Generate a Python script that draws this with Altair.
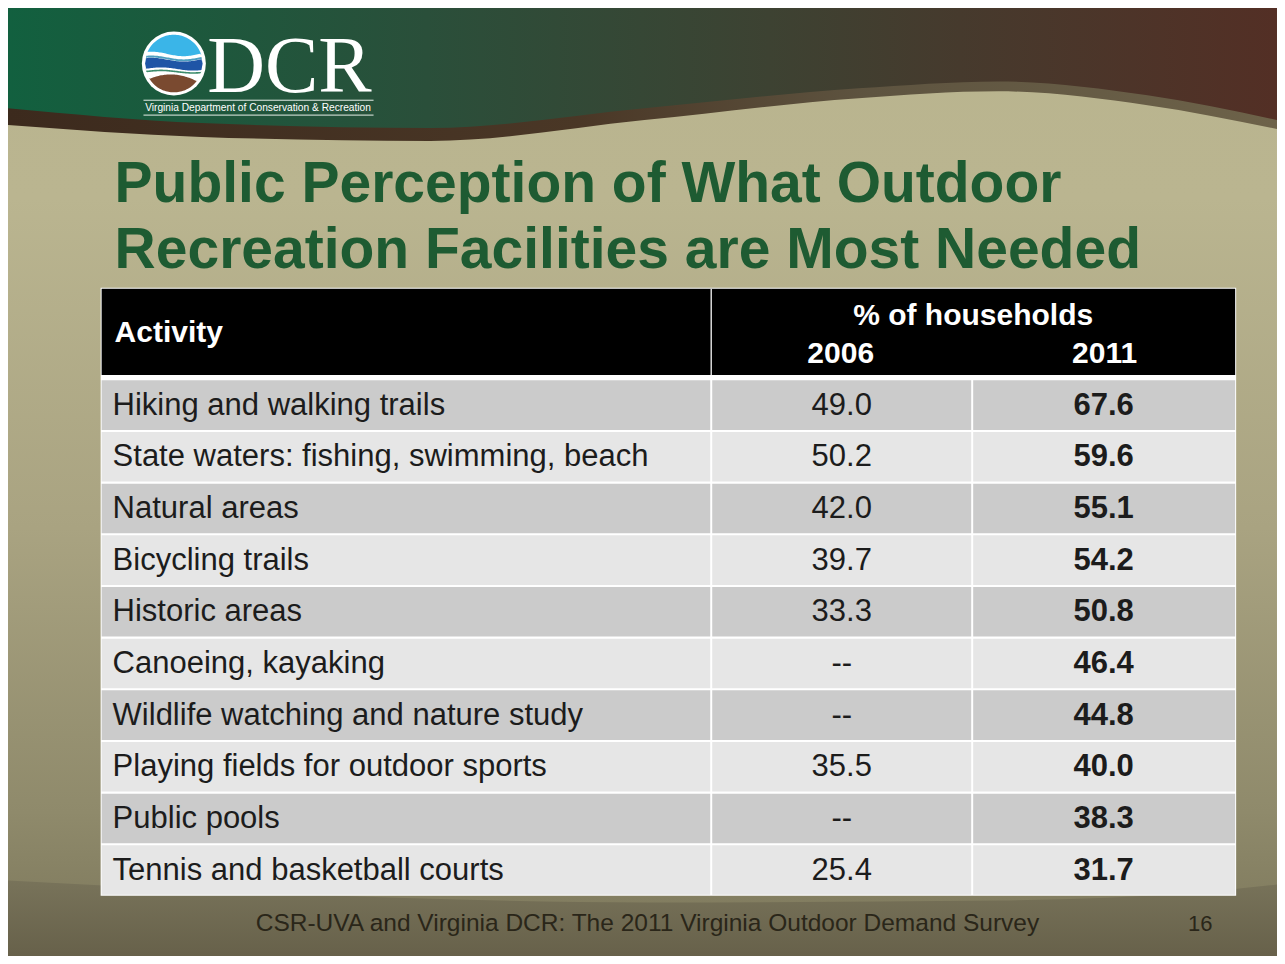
import altair as alt
import pandas as pd
import numpy as np

# ---------------- data ----------------
activities = [
    "Hiking and walking trails",
    "State waters: fishing, swimming, beach",
    "Natural areas",
    "Bicycling trails",
    "Historic areas",
    "Canoeing, kayaking",
    "Wildlife watching and nature study",
    "Playing fields for outdoor sports",
    "Public pools",
    "Tennis and basketball courts",
]
pct_2006 = [49.0, 50.2, 42.0, 39.7, 33.3, None, None, 35.5, None, 25.4]
pct_2011 = [67.6, 59.6, 55.1, 54.2, 50.8, 46.4, 44.8, 40.0, 38.3, 31.7]
header_activity = "Activity"
header_measure = "% of households"
years = ["2006", "2011"]
title_lines = ["Public Perception of What Outdoor", "Recreation Facilities are Most Needed"]
footer_text = "CSR-UVA and Virginia DCR: The 2011 Virginia Outdoor Demand Survey"
page_number = "16"
logo_text = "DCR"
logo_sub = "Virginia Department of Conservation & Recreation"

# ---------------- layout (page pixel coordinates) ----------------
xs = alt.Scale(domain=[8, 1277], nice=False, zero=False)
ys = alt.Scale(domain=[8, 956], nice=False, zero=False, reverse=True)


def X(f):
    return alt.X(f, type="quantitative", scale=xs, axis=None)


def Y(f):
    return alt.Y(f, type="quantitative", scale=ys, axis=None)


def grad(stops, vertical=False):
    return alt.Gradient(
        gradient="linear",
        stops=[alt.GradientStop(offset=o, color=c) for o, c in stops],
        x1=0, x2=0 if vertical else 1, y1=0, y2=1 if vertical else 0,
    )


FONT = "Liberation Sans"

# slide background
bg = pd.DataFrame({"x0": [6], "x1": [1280], "y0": [6], "y1": [960]})
bg_layer = alt.Chart(bg).mark_rect(
    color=grad([(0, "#b9b48e"), (0.2, "#bab590"), (0.55, "#a9a381"), (0.85, "#8f8a6b"), (1, "#7b765a")], vertical=True)
).encode(x=X("x0"), x2=alt.X2("x1"), y=Y("y0"), y2=alt.Y2("y1"))

# darker bottom region
bot_x = [6, 300, 650, 1000, 1200, 1280]
bot_y = [886, 900, 908, 906, 898, 890]
bot = pd.DataFrame({"x": bot_x, "y": bot_y, "y2": [962] * len(bot_x)})
bot_layer = alt.Chart(bot).mark_area(
    interpolate="monotone",
    color=grad([(0, "#78735a"), (1, "#67614a")], vertical=True),
).encode(x=X("x"), y=Y("y"), y2=alt.Y2("y2"))

# header wave
wave_x = [6, 200, 430, 645, 860, 1000, 1150, 1280]
wave_y = [107, 122, 127, 107, 87, 80, 94, 119]
shadow_add = [17, 14, 13, 12, 10, 10, 10, 9]
hdr = pd.DataFrame({
    "x": wave_x,
    "top": [6] * len(wave_x),
    "wave": wave_y,
    "wave_s": [w - 2 for w in wave_y],
    "shadow": [w + s for w, s in zip(wave_y, shadow_add)],
})
shadow_layer = alt.Chart(hdr).mark_area(
    interpolate="monotone",
    color=grad([(0, "#3c2a1d"), (0.45, "#4a3726"), (0.68, "#5e5440"), (1, "#6d6249")]),
).encode(x=X("x"), y=Y("wave_s"), y2=alt.Y2("shadow"))
header_layer = alt.Chart(hdr).mark_area(
    interpolate="monotone",
    color=grad([(0, "#12603f"), (0.33, "#2a4f3a"), (0.6, "#3d4232"), (0.75, "#463a2d"), (1, "#532f25")]),
).encode(x=X("x"), y=Y("top"), y2=alt.Y2("wave"))

# ---------------- logo ----------------
def band_path(top_fn, bot_fn, r=0.9, n=48):
    xx = np.linspace(-r, r, n)
    yc = np.sqrt(np.maximum(r * r - xx ** 2, 0))
    t = np.clip(top_fn(xx), -yc, yc)
    b = np.clip(bot_fn(xx), -yc, yc)
    b = np.maximum(b, t)
    pts = list(zip(xx, t)) + list(zip(xx[::-1], b[::-1]))
    return "M " + " L ".join(f"{x:.3f} {y:.3f}" for x, y in pts) + " Z"


LX, LY, LSIZE = 172.5, 62, 64 * 64
logo_shapes = [
    ("circle", "#ffffff"),
    (band_path(lambda x: -2 + 0 * x, lambda x: -0.30 + 0.07 * np.sin(np.pi * (x + 0.2))), "#3ab5e8"),
    (band_path(lambda x: -0.19 + 0.06 * np.sin(np.pi * (x + 0.2)), lambda x: -0.13 + 0.06 * np.sin(np.pi * (x + 0.2))), "#4e9fc0"),
    (band_path(lambda x: -0.12 + 0.06 * np.sin(np.pi * (x + 0.2)), lambda x: 0.17 + 0.05 * np.sin(np.pi * (x - 0.1))), "#1f55a6"),
    (band_path(lambda x: 0.23 + 0.04 * np.sin(np.pi * (x - 0.1)), lambda x: 0.28 + 0.04 * np.sin(np.pi * (x - 0.1))), "#3d8c6c"),
    (band_path(lambda x: 0.34 + 0.32 * (x + 0.1) ** 2, lambda x: 2 + 0 * x), "#7a4a30"),
]
logo = pd.DataFrame({
    "x": [LX] * len(logo_shapes),
    "y": [LY] * len(logo_shapes),
    "shape": [s for s, _ in logo_shapes],
    "fill": [c for _, c in logo_shapes],
})
logo_layer = alt.Chart(logo).mark_point(filled=True, opacity=1, strokeWidth=0, size=LSIZE).encode(
    x=X("x"), y=Y("y"),
    shape=alt.Shape("shape:N", scale=None),
    color=alt.Color("fill:N", scale=None),
)
logo_txt = alt.Chart(pd.DataFrame({"x": [206], "y": [91], "t": [logo_text]})).mark_text(
    font="Liberation Serif", fontSize=80, color="#ffffff", align="left", baseline="alphabetic"
).encode(x=X("x"), y=Y("y"), text="t:N")
logo_sub_txt = alt.Chart(pd.DataFrame({"x": [257], "y": [106.5], "t": [logo_sub]})).mark_text(
    font=FONT, fontSize=10.2, color="#ffffff", align="center", baseline="middle"
).encode(x=X("x"), y=Y("y"), text="t:N")
logo_lines = alt.Chart(pd.DataFrame({"x0": [142, 142], "x1": [373, 373], "y": [99, 114]})).mark_rule(
    color="#e8efe9", strokeWidth=1
).encode(x=X("x0"), x2=alt.X2("x1"), y=Y("y"))

# ---------------- title ----------------
title = pd.DataFrame({"x": [113, 113], "y": [202, 268], "t": title_lines})
title_layer = alt.Chart(title).mark_text(
    font=FONT, fontSize=57, fontWeight="bold", color="#1e5b32", align="left", baseline="alphabetic"
).encode(x=X("x"), y=Y("y"), text="t:N")

# ---------------- table ----------------
TL, TR, C1, C2 = 100, 1238, 712, 974
HEAD_T, HEAD_B = 289, 376
BODY_T, PITCH, ROW_H = 381.5, 52.1, 50

backing = pd.DataFrame({"x0": [TL - 1], "x1": [TR + 1], "y0": [HEAD_T - 1], "y1": [BODY_T + 9 * PITCH + ROW_H + 1]})
backing_layer = alt.Chart(backing).mark_rect(color="#ffffff").encode(
    x=X("x0"), x2=alt.X2("x1"), y=Y("y0"), y2=alt.Y2("y1"))
head = pd.DataFrame({"x0": [TL], "x1": [TR], "y0": [HEAD_T], "y1": [HEAD_B]})
head_layer = alt.Chart(head).mark_rect(color="#000000").encode(
    x=X("x0"), x2=alt.X2("x1"), y=Y("y0"), y2=alt.Y2("y1"))
head_div = alt.Chart(pd.DataFrame({"x": [C1], "y0": [HEAD_T], "y1": [HEAD_B]})).mark_rule(
    color="#d9d9d9", strokeWidth=1.5).encode(x=X("x"), y=Y("y0"), y2=alt.Y2("y1"))

cells = []
rows = []
for i, act in enumerate(activities):
    top = BODY_T + i * PITCH
    fill = "#cbcbcb" if i % 2 == 0 else "#e6e6e6"
    for x0, x1 in [(TL, C1 - 1), (C1 + 1, C2 - 1), (C2 + 1, TR)]:
        cells.append({"x0": x0, "x1": x1, "y0": top, "y1": top + ROW_H, "fill": fill})
    v06 = pct_2006[i]
    rows.append({
        "activity": act,
        "v06": "--" if v06 is None else f"{v06:.1f}",
        "v11": f"{pct_2011[i]:.1f}",
        "y": top + ROW_H / 2 + 0.5,
        "xa": 111, "x06": 843, "x11": 1106,
    })
cells = pd.DataFrame(cells)
rows = pd.DataFrame(rows)

cell_layer = alt.Chart(cells).mark_rect().encode(
    x=X("x0"), x2=alt.X2("x1"), y=Y("y0"), y2=alt.Y2("y1"), color=alt.Color("fill:N", scale=None))
act_layer = alt.Chart(rows).mark_text(
    font=FONT, fontSize=31, color="#1c1c1c", align="left", baseline="middle"
).encode(x=X("xa"), y=Y("y"), text="activity:N")
v06_layer = alt.Chart(rows).mark_text(
    font=FONT, fontSize=31, color="#1c1c1c", align="center", baseline="middle"
).encode(x=X("x06"), y=Y("y"), text="v06:N")
v11_layer = alt.Chart(rows).mark_text(
    font=FONT, fontSize=31, fontWeight="bold", color="#1c1c1c", align="center", baseline="middle"
).encode(x=X("x11"), y=Y("y"), text="v11:N")

head_txt = pd.DataFrame({
    "x": [113, 975, 842, 1107],
    "y": [334, 317, 355, 355],
    "t": [header_activity, header_measure, years[0], years[1]],
    "a": ["left", "center", "center", "center"],
})
head_txt_left = alt.Chart(head_txt[head_txt.a == "left"]).mark_text(
    font=FONT, fontSize=30, fontWeight="bold", color="#ffffff", align="left", baseline="middle"
).encode(x=X("x"), y=Y("y"), text="t:N")
head_txt_center = alt.Chart(head_txt[head_txt.a == "center"]).mark_text(
    font=FONT, fontSize=30, fontWeight="bold", color="#ffffff", align="center", baseline="middle"
).encode(x=X("x"), y=Y("y"), text="t:N")

# ---------------- footer ----------------
foot = alt.Chart(pd.DataFrame({"x": [648], "y": [930], "t": [footer_text]})).mark_text(
    font=FONT, fontSize=24.5, color="#2a2619", align="center", baseline="middle"
).encode(x=X("x"), y=Y("y"), text="t:N")
pnum = alt.Chart(pd.DataFrame({"x": [1203], "y": [930], "t": [page_number]})).mark_text(
    font=FONT, fontSize=22, color="#2a2619", align="center", baseline="middle"
).encode(x=X("x"), y=Y("y"), text="t:N")

chart = alt.layer(
    bg_layer, bot_layer, shadow_layer, header_layer,
    logo_layer, logo_txt, logo_lines, logo_sub_txt,
    title_layer,
    backing_layer, head_layer, head_div, cell_layer,
    act_layer, v06_layer, v11_layer, head_txt_left, head_txt_center,
    foot, pnum,
).properties(
    width=1269, height=948,
    autosize=alt.AutoSizeParams(type="fit", contains="padding"),
    padding=0,
    background="#ffffff",
).configure_view(strokeWidth=0)

chart.save("out.html", embed_options={"renderer": "svg", "actions": False})
